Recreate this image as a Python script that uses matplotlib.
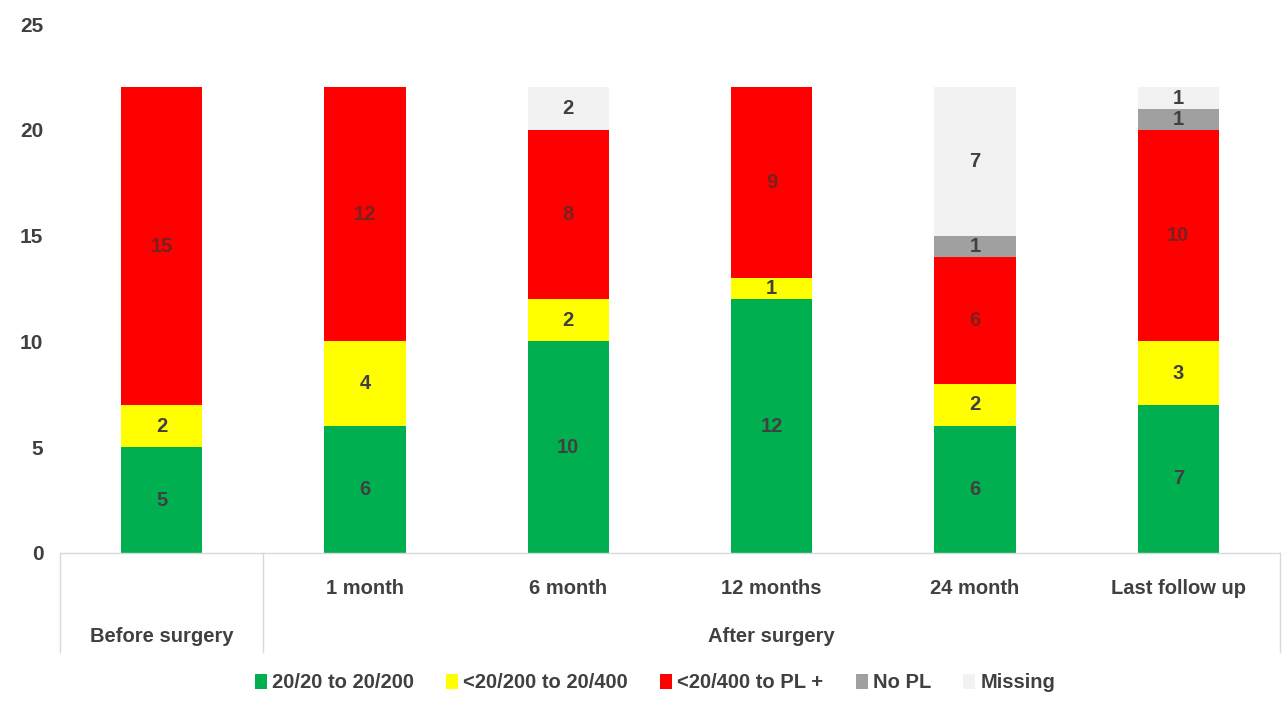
import matplotlib
matplotlib.use("Agg")
import matplotlib.pyplot as plt
from matplotlib.patches import Patch
import matplotlib.transforms as mtransforms

plt.rcParams['font.family'] = ['Liberation Sans', 'DejaVu Sans']

timepoints = ["Before surgery", "1 month", "6 month", "12 months", "24 month", "Last follow up"]
sub_labels = ["", "1 month", "6 month", "12 months", "24 month", "Last follow up"]
groups = ["Before surgery", "After surgery"]

series_names = ["20/20 to 20/200", "<20/200 to 20/400", "<20/400 to PL +", "No PL", "Missing"]
good = [5, 6, 10, 12, 6, 7]
moderate = [2, 4, 2, 1, 2, 3]
poor = [15, 12, 8, 9, 6, 10]
no_pl = [0, 0, 0, 0, 1, 1]
missing = [0, 0, 2, 0, 7, 1]

colors = ["#00B050", "#FFFF00", "#FF0000", "#A0A0A0", "#F2F2F2"]
label_colors = ["#404040", "#404040", "#7A2020", "#404040", "#404040"]
text_color = "#404040"
line_color = "#D9D9D9"
fs = 14.5

fig = plt.figure(figsize=(12.87, 7.11), dpi=100)
ax = fig.add_axes([60 / 1287, 1 - 553 / 711, 1220 / 1287, (553 - 24) / 711])

x = list(range(len(timepoints)))
bottom = [0] * len(x)
for name, vals, col, lc in zip(series_names, [good, moderate, poor, no_pl, missing],
                               colors, label_colors):
    ax.bar(x, vals, width=0.4, bottom=bottom, color=col, label=name)
    for xi, b, v in zip(x, bottom, vals):
        if v > 0:
            ax.text(xi, b + v / 2, str(v), ha="center", va="center",
                    fontsize=fs, fontweight="bold", color=lc)
    bottom = [b + v for b, v in zip(bottom, vals)]

ax.set_xlim(-0.5, len(x) - 0.5)
ax.set_ylim(0, 25)
ax.set_yticks([0, 5, 10, 15, 20, 25])
ax.tick_params(axis="y", length=0, pad=12, labelsize=fs + 0.5, labelcolor=text_color)
for lab in ax.get_yticklabels():
    lab.set_fontweight("bold")
ax.set_xticks([])
for s in ["top", "right", "left"]:
    ax.spines[s].set_visible(False)
ax.spines["bottom"].set_color(line_color)
ax.spines["bottom"].set_linewidth(1.0)

# Two-level category axis drawn below the plot
trans = mtransforms.blended_transform_factory(ax.transData, fig.transFigure)
y_axis = 1 - 553 / 711
y_bottom = 1 - 652 / 711
for xv in [-0.5, 0.5, len(x) - 0.5]:
    ax.plot([xv, xv], [y_axis, y_bottom], transform=trans, color=line_color,
            lw=1.0, clip_on=False)

y_sub = 1 - 588 / 711
y_grp = 1 - 636 / 711
for xi, lab in zip(x, sub_labels):
    if lab:
        ax.text(xi, y_sub, lab, transform=trans, ha="center", va="center",
                fontsize=fs, fontweight="bold", color=text_color)
ax.text(0, y_grp, groups[0], transform=trans, ha="center", va="center",
        fontsize=fs, fontweight="bold", color=text_color)
ax.text(3, y_grp, groups[1], transform=trans, ha="center", va="center",
        fontsize=fs, fontweight="bold", color=text_color)

handles = [Patch(facecolor=c, edgecolor="none", label=n) for n, c in zip(series_names, colors)]
leg = fig.legend(handles=handles, loc="center", bbox_to_anchor=(655 / 1287, 1 - 683 / 711),
                 ncol=5, frameon=False, handlelength=0.6, handleheight=0.75,
                 handletextpad=0.25, columnspacing=1.6,
                 prop={"size": fs, "weight": "bold"})
for t in leg.get_texts():
    t.set_color(text_color)

fig.savefig("out.png", dpi=100)
